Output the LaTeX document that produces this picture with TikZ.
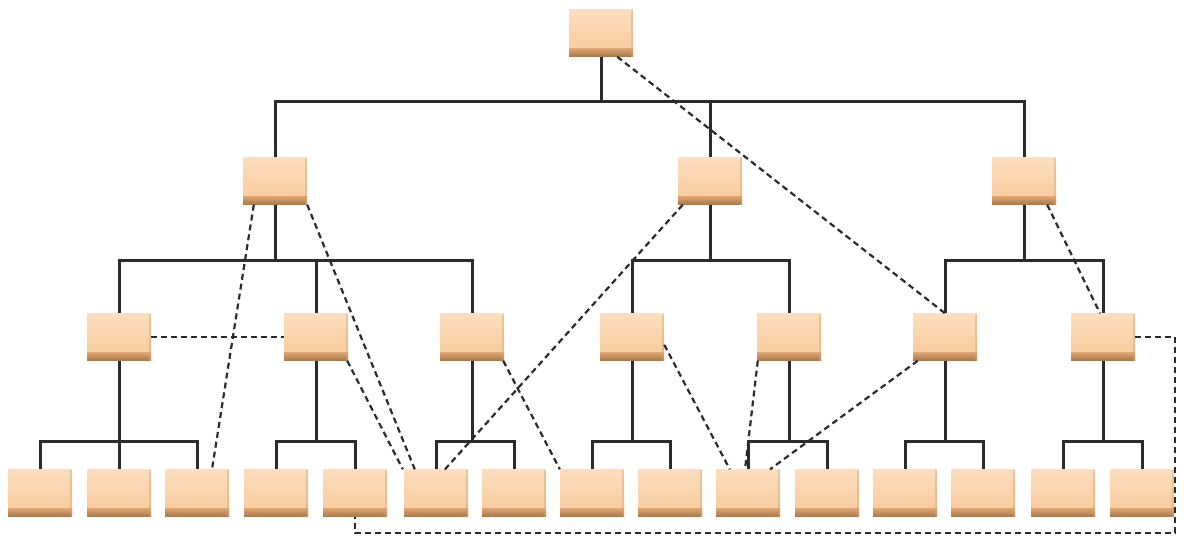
\documentclass[tikz,border=0pt]{standalone}
\usetikzlibrary{calc}
\definecolor{boxtop}{HTML}{FCDDBE}
\definecolor{boxmid}{HTML}{F7C999}
\definecolor{boxlow}{HTML}{DCA570}
\definecolor{boxdark}{HTML}{A9774B}
\definecolor{linec}{HTML}{2B2B2B}
\tikzset{
  orgbox/.style={rectangle, minimum width=64pt, minimum height=47pt, inner sep=0pt,
    path picture={
      \fill[top color=boxtop, bottom color=boxmid]
        (path picture bounding box.north west) rectangle (path picture bounding box.south east);
      \fill[top color=boxlow, bottom color=boxdark]
        ([yshift=8pt]path picture bounding box.south west) rectangle (path picture bounding box.south east);
      \fill[boxlow, opacity=0.45]
        ([xshift=-2.5pt]path picture bounding box.north east) rectangle (path picture bounding box.south east);
    }},
  treeline/.style={draw=linec, line width=3pt},
  dashline/.style={draw=linec, line width=2.2pt, dash pattern=on 6pt off 4pt},
}
\begin{document}
\begin{tikzpicture}[x=1pt,y=-1pt]
\useasboundingbox (0,0) rectangle (1186,536);
% nodes
\node[orgbox] (r) at (601,33) {};
\node[orgbox] (a) at (275,181) {};
\node[orgbox] (b) at (710,181) {};
\node[orgbox] (c) at (1024,181) {};
\node[orgbox] (a1) at (119,337) {};
\node[orgbox] (a2) at (316,337) {};
\node[orgbox] (a3) at (472,337) {};
\node[orgbox] (b1) at (632,337) {};
\node[orgbox] (b2) at (789,337) {};
\node[orgbox] (c1) at (945,337) {};
\node[orgbox] (c2) at (1103,337) {};
\foreach \i/\x in {1/40,2/119,3/197,4/276,5/355,6/436,7/514,8/592,9/670,10/748,11/827,12/905,13/983,14/1063,15/1142}
  \node[orgbox] (l\i) at (\x,493) {};
% tree connectors
\foreach \t in {a,b,c} \draw[treeline] (r.south) -- ++(0,45) -| (\t.north);
\foreach \t in {a1,a2,a3} \draw[treeline] (a.south) -- ++(0,56) -| (\t.north);
\foreach \t in {b1,b2} \draw[treeline] (b.south) -- ++(0,56) -| (\t.north);
\foreach \t in {c1,c2} \draw[treeline] (c.south) -- ++(0,56) -| (\t.north);
\foreach \p/\ch in {a1/{l1,l2,l3}, a2/{l4,l5}, a3/{l6,l7}, b1/{l8,l9}, b2/{l10,l11}, c1/{l12,l13}, c2/{l14,l15}}
  \foreach \t in \ch \draw[treeline] (\p.south) -- ++(0,80.5) -| (\t.north);
% dashed connectors
\draw[dashline] ([xshift=-16pt]r.south east) -- (c1.north);
\draw[dashline] ([xshift=11pt]a.south west) -- ([xshift=15pt]l3.north);
\draw[dashline] (a.south east) -- ([xshift=11pt]l6.north west);
\draw[dashline] (a1.east) -- (a2.west);
\draw[dashline] ([xshift=-1pt]a2.south east) -- ([xshift=-1pt]l6.north west);
\draw[dashline] ([xshift=5pt]b.south west) -- ([xshift=9pt]l6.north);
\draw[dashline] ([xshift=-1pt]a3.south east) -- (l8.north west);
\draw[dashline] ([yshift=16pt]b1.south east) -- ([xshift=14pt]l10.north west);
\draw[dashline] ([xshift=1pt]b2.south west) -- ([xshift=-3pt]l10.north);
\draw[dashline] ([xshift=5pt]c1.south west) -- ([xshift=22pt]l10.north);
\draw[dashline] ([xshift=-9pt]c.south east) -- ([xshift=-3pt]c2.north);
\coordinate (k) at (1175,533);
\draw[dashline] (c2.east) -| (k) -| (l5.south);
\end{tikzpicture}
\end{document}
